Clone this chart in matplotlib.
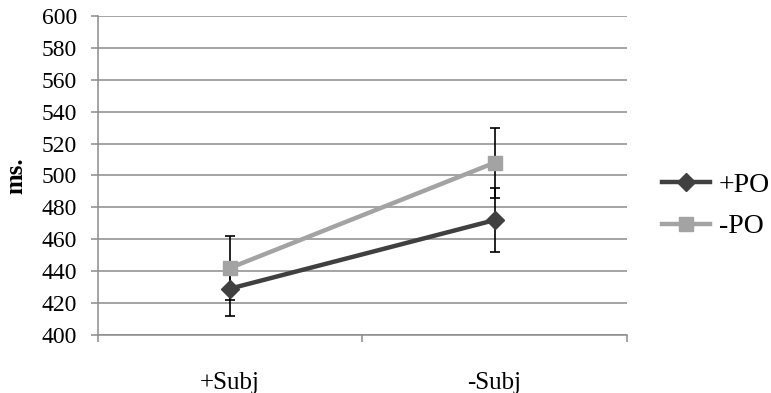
import matplotlib
matplotlib.use("Agg")
import matplotlib.pyplot as plt
from matplotlib.ticker import FixedLocator, NullFormatter

categories = ["+Subj", "-Subj"]
series_names = ["+PO", "-PO"]
plus_po = [429, 472]
minus_po = [442, 508]
plus_po_err = [17, 20]
minus_po_err = [20, 22]
y_ticks = list(range(400, 601, 20))

plt.rcParams['font.family'] = ['Liberation Serif', 'DejaVu Serif']

fig = plt.figure(figsize=(7.71, 3.93), dpi=100)
ax = fig.add_axes([0.127, 0.148, 0.686, 0.811])

x = list(range(len(categories)))
dark = '#404040'
light = '#a3a3a3'

ax.errorbar(x, plus_po, yerr=plus_po_err, fmt='none', ecolor='black', elinewidth=1.2, capsize=3.6, capthick=1.2, zorder=3)
ax.errorbar(x, minus_po, yerr=minus_po_err, fmt='none', ecolor='black', elinewidth=1.2, capsize=3.6, capthick=1.2, zorder=3)
ax.plot(x, plus_po, color=dark, lw=3.2, marker='D', markersize=9, label=series_names[0], zorder=4)
ax.plot(x, minus_po, color=light, lw=3.2, marker='s', markersize=10, label=series_names[1], zorder=4)

ax.set_xlim(-0.5, len(categories) - 0.5)
ax.set_ylim(400, 600)
ax.set_yticks(y_ticks)
ax.yaxis.grid(True, color='#8c8c8c', lw=1.1)
ax.set_axisbelow(True)

ax.xaxis.set_major_locator(FixedLocator([-0.5, 0.5, 1.5]))
ax.xaxis.set_major_formatter(NullFormatter())
ax.xaxis.set_minor_locator(FixedLocator(x))
ax.set_xticklabels(categories, minor=True)
ax.tick_params(axis='x', which='minor', length=0, pad=27, labelsize=18)
ax.tick_params(axis='x', which='major', length=5, color='#8c8c8c', width=1.1)
ax.tick_params(axis='y', length=5, color='#8c8c8c', width=1.1, pad=10, labelsize=17)

for s in ['top', 'right']:
    ax.spines[s].set_visible(False)
for s in ['left', 'bottom']:
    ax.spines[s].set_color('#8c8c8c')
    ax.spines[s].set_linewidth(1.1)

ax.set_ylabel('ms.', fontsize=18, fontweight='bold', labelpad=10)

ax.legend(loc='center left', bbox_to_anchor=(1.045, 0.405), borderaxespad=0, frameon=False, fontsize=20,
          handlelength=1.75, labelspacing=0.58, handletextpad=0.3)

fig.savefig('out.png', dpi=100)
